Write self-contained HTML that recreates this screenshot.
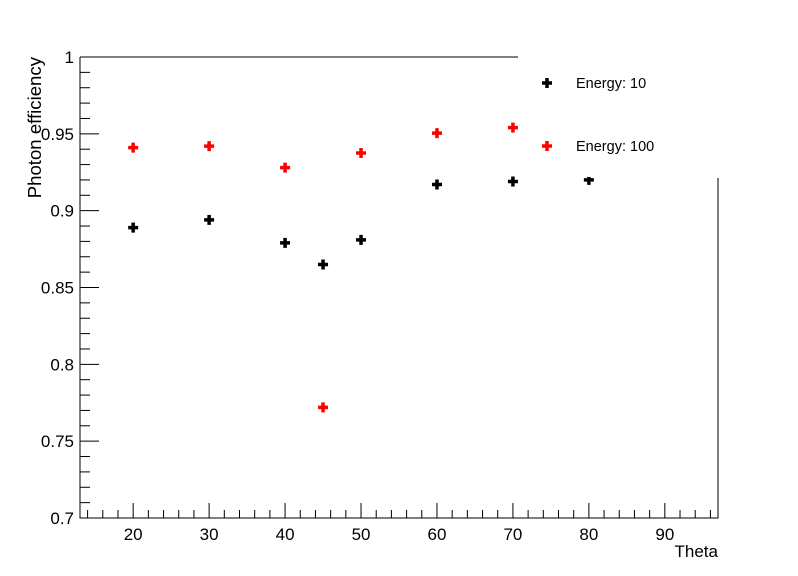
<!DOCTYPE html>
<html><head><meta charset="utf-8"><style>body{margin:0;background:#fff}svg{display:block}text{font-family:"Liberation Sans",sans-serif}</style></head>
<body>
<svg id="c" width="798" height="576"></svg>
<script>
const thetaBlack=[20,30,40,45,50,60,70,80];
const effBlack=[0.889,0.894,0.879,0.865,0.881,0.917,0.919,0.920];
const thetaRed=[20,30,40,45,50,60,70];
const effRed=[0.941,0.942,0.928,0.772,0.9375,0.9505,0.954];
const xTicks=[20,30,40,50,60,70,80,90];
const yTicks=[0.7,0.75,0.8,0.85,0.9,0.95,1];
const yTickLabels=["0.7","0.75","0.8","0.85","0.9","0.95","1"];
const L=80,R=718,T=57,B=518,X0=13,X1=97,Y0=0.7,Y1=1.0;
const sx=v=>L+(v-X0)/(X1-X0)*(R-L);
const sy=v=>B-(v-Y0)/(Y1-Y0)*(B-T);
const svg=document.getElementById('c');
const NS='http://www.w3.org/2000/svg';
function mk(t,a,p){const e=document.createElementNS(NS,t);for(const k in a)e.setAttribute(k,a[k]);(p||svg).appendChild(e);return e;}
function line(x1,y1,x2,y2,n){const e=mk('line',{x1,y1,x2,y2,stroke:'#000','stroke-width':1});return e;}
const fr=mk('path',{d:`M${L},${T}H518M${L},${T}V${B}H${R}V178`,fill:'none',stroke:'#000','stroke-width':1});

for(let v=14;v<=96;v+=2){const maj=v%10===0;line(sx(v),B,sx(v),B-(maj?15:8),'x-tick');}
xTicks.forEach(v=>{const t=mk('text',{x:sx(v),y:B+22,'text-anchor':'middle','font-size':17});t.textContent=v;});
for(let i=0;i<=30;i++){const v=0.7+i*0.01;const maj=i%5===0;line(L,sy(v),L+(maj?19:10),sy(v),'y-tick');}
yTicks.forEach((v,i)=>{const t=mk('text',{x:L-6,y:sy(v)+6,'text-anchor':'end','font-size':17});t.textContent=yTickLabels[i];});
let t=mk('text',{x:718,y:557,'text-anchor':'end','font-size':17});t.textContent='Theta';
t=mk('text',{x:0,y:0,'text-anchor':'end','font-size':18.6,transform:'translate(41,57) rotate(-90)'});t.textContent='Photon efficiency';
function cross(x,y,c,n){const e=mk('path',{d:`M${x-5},${y}H${x+5}M${x},${y-5}V${y+5}`,stroke:c,'stroke-width':3.5,fill:'none'});}
thetaBlack.forEach((v,i)=>cross(sx(v),sy(effBlack[i]),'#000','point-energy-10'));
thetaRed.forEach((v,i)=>cross(sx(v),sy(effRed[i]),'#f00','point-energy-100'));
const lg=mk('rect',{x:519,y:58,width:198,height:119,fill:'#fff'});
cross(547,83,'#000','legend-marker-energy-10');
cross(547,146,'#f00','legend-marker-energy-100');
t=mk('text',{x:576,y:88,'font-size':14.5});t.textContent='Energy: 10';
t=mk('text',{x:576,y:151,'font-size':14.5});t.textContent='Energy: 100';
</script>
</body></html>
